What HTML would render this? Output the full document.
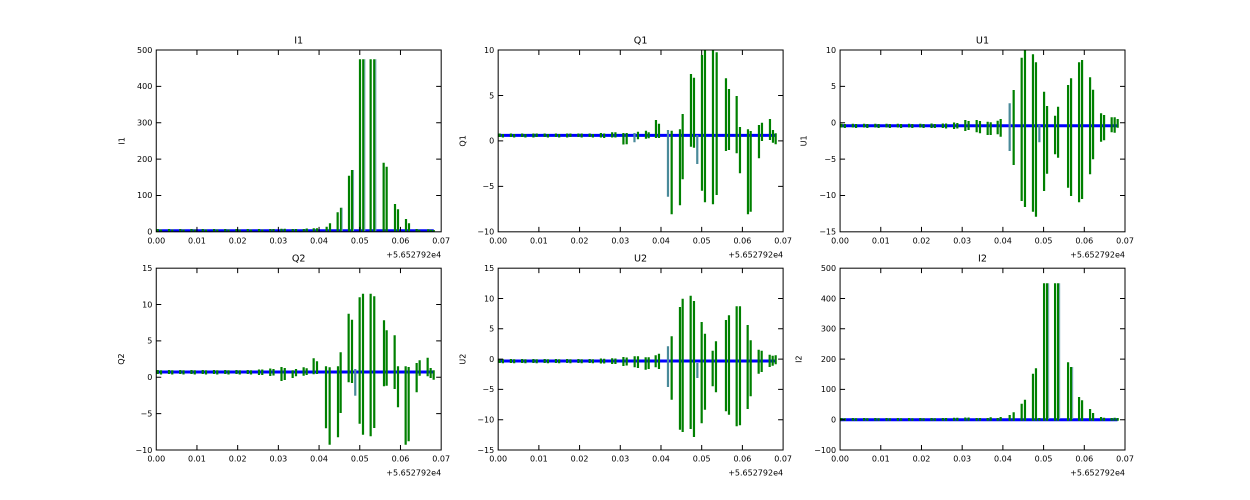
<!DOCTYPE html>
<html><head><meta charset="utf-8"><style>
html,body{margin:0;padding:0;background:#fff;}
svg{display:block;}
text{font-family:"DejaVu Sans","Liberation Sans",sans-serif;fill:#000;}
.t{font-size:8px;}
.ti{font-size:9.6px;}
</style></head><body>
<svg width="1250" height="500" viewBox="0 0 1250 500" xmlns="http://www.w3.org/2000/svg">
<defs>
<clipPath id="c1"><rect x="156.25" y="50" width="284.93" height="181.82"/></clipPath>
<clipPath id="c2"><rect x="498.17" y="50" width="284.93" height="181.82"/></clipPath>
<clipPath id="c3"><rect x="840.07" y="50" width="284.93" height="181.82"/></clipPath>
<clipPath id="c4"><rect x="156.25" y="268.18" width="284.93" height="181.82"/></clipPath>
<clipPath id="c5"><rect x="498.17" y="268.18" width="284.93" height="181.82"/></clipPath>
<clipPath id="c6"><rect x="840.07" y="268.18" width="284.93" height="181.82"/></clipPath>
</defs>
<rect width="1250" height="500" fill="#fff"/>

<!-- ===== Panel I1 ===== -->
<g clip-path="url(#c1)">
<g transform="translate(156.25,0)">
<path d="M0 230.8H277.5" stroke="#0000ff" stroke-width="3" fill="none"/>
<path stroke="#008000" stroke-width="2.2" fill="none" d="M1.5 229V233M4.75 229.5V233M12.75 229V233M16 229.5V233M24 229V233M27.25 229.5V233M35.25 229V233M38.5 229.5V233M46.5 229V233M49.75 229.5V233M57.75 229V233M61 229.5V233M69 229V233M72.25 229.5V233M80.25 229V233M83.5 229.5V233M91.5 229V233M94.75 229.5V233M102.75 229V233M106 229.5V233M114 229V233M117.25 229V233M125.25 228.7V233M128.5 228.7V233
M136.5 229V233M139.8 229V233M147.5 229V233M150.5 228.5V233M157.5 228.3V233M160.7 228.3V233M170.4 226.7V233M173.75 223.3V233M181.4 212.3V233M184.75 207.7V233M192.75 175.7V233M195.75 170V233M203.75 59.3V233M207 59.3V233M214.4 59.3V233M218 59.3V233M227.4 162.7V233M230.4 166.7V233M238.75 204V233M241.75 209.3V233M249.75 219V233M252.75 223.3V233M260.4 229V233M263 229.7V233M272 229.3V233M274.75 229.7V233M277.5 230V233"/>
<path stroke="#6f9fb0" stroke-width="1" fill="none" d="M208.6 59.3V231M219.6 59.3V231M197.3 170V231M185.9 207.7V231"/>
</g></g>
<rect x="156.25" y="50" width="284.93" height="181.82" fill="none" stroke="#000" stroke-width="1"/>
<path stroke="#000" stroke-width="1" fill="none" d="M196.95 231.82v-5M237.66 231.82v-5M278.36 231.82v-5M319.07 231.82v-5M359.77 231.82v-5M400.47 231.82v-5M196.95 50v5M237.66 50v5M278.36 50v5M319.07 50v5M359.77 50v5M400.47 50v5M156.25 195.45h5M156.25 159.09h5M156.25 122.73h5M156.25 86.36h5M441.18 195.45h-5M441.18 159.09h-5M441.18 122.73h-5M441.18 86.36h-5"/>
<g class="t" text-anchor="end">
<text x="152.3" y="234.6">0</text><text x="152.3" y="198.2">100</text><text x="152.3" y="161.9">200</text><text x="152.3" y="125.5">300</text><text x="152.3" y="89.2">400</text><text x="152.3" y="52.8">500</text>
</g>
<g class="t" text-anchor="middle">
<text x="156.25" y="243.3">0.00</text><text x="196.95" y="243.3">0.01</text><text x="237.66" y="243.3">0.02</text><text x="278.36" y="243.3">0.03</text><text x="319.07" y="243.3">0.04</text><text x="359.77" y="243.3">0.05</text><text x="400.47" y="243.3">0.06</text><text x="441.18" y="243.3">0.07</text>
</g>
<text class="t" x="441.18" y="257.5" text-anchor="end">+5.652792e4</text>
<text class="ti" x="298.7" y="43.3" text-anchor="middle">I1</text>
<text class="t" transform="translate(124.5,140.9) rotate(-90)" text-anchor="middle">I1</text>

<!-- ===== Panel Q1 ===== -->
<g clip-path="url(#c2)">
<g transform="translate(498.17,0)">
<path d="M0 135.4H277.5" stroke="#0000ff" stroke-width="3" fill="none"/>
<path stroke="#008000" stroke-width="2.2" fill="none" d="M1.5 133.5V137M4.75 134V137.5M12.75 133.5V137M16 134V137.5M24 133.5V137M27.25 134V137.5M35.25 133.5V137.5M38.5 133.5V137M46.5 133.5V137M49.75 134V137.5M57.75 133.5V137M61 134V137.5M69 133.5V137.5M72.25 133.5V137M80.25 133.5V137M83.5 133.5V137.5M91.5 133.5V137M94.75 134V137.5M102.75 133V137.5M106 133.5V138M114 132.3V137.5M117.25 132.3V137.5M125.25 133V144.5M128.5 133V144.3
M139.8 131.7V139.3M147.8 130.7V138.7M150.5 132.3V138.3M157.8 120V138M160.8 123.7V138M173.5 130.7V214.3M181.8 129.3V205.3M184.5 114V179.3M192.8 74V146.7M195.8 77.7V147.7M203.8 55V190.7M206.8 48V202.3M214.8 48V204.3M218.5 52.3V195M227.8 78.3V151M230.8 89V150M238.5 96V153.3M241.8 127V173.3M249.8 129.3V214.3M252.5 131V211.7M260.8 125V158.3M263.8 122.7V141M271.8 119V140M274.8 130V142.7M277.5 133.3V144.3"/>
<path stroke="#4a8a9a" stroke-width="2.2" fill="none" d="M136.3 133V142.3M169.8 130V196.7M199.1 135V164"/>
</g></g>
<rect x="498.17" y="50" width="284.93" height="181.82" fill="none" stroke="#000" stroke-width="1"/>
<path stroke="#000" stroke-width="1" fill="none" d="M538.87 231.82v-5M579.58 231.82v-5M620.28 231.82v-5M660.99 231.82v-5M701.69 231.82v-5M742.39 231.82v-5M538.87 50v5M579.58 50v5M620.28 50v5M660.99 50v5M701.69 50v5M742.39 50v5M498.17 186.36h5M498.17 140.91h5M498.17 95.45h5M783.1 186.36h-5M783.1 140.91h-5M783.1 95.45h-5"/>
<g class="t" text-anchor="end">
<text x="494.2" y="234.6">−10</text><text x="494.2" y="189.2">−5</text><text x="494.2" y="143.7">0</text><text x="494.2" y="98.3">5</text><text x="494.2" y="52.8">10</text>
</g>
<g class="t" text-anchor="middle">
<text x="498.17" y="243.3">0.00</text><text x="538.87" y="243.3">0.01</text><text x="579.58" y="243.3">0.02</text><text x="620.28" y="243.3">0.03</text><text x="660.99" y="243.3">0.04</text><text x="701.69" y="243.3">0.05</text><text x="742.39" y="243.3">0.06</text><text x="783.1" y="243.3">0.07</text>
</g>
<text class="t" x="783.1" y="257.5" text-anchor="end">+5.652792e4</text>
<text class="ti" x="640.6" y="43.3" text-anchor="middle">Q1</text>
<text class="t" transform="translate(465.5,140.9) rotate(-90)" text-anchor="middle">Q1</text>

<!-- ===== Panel U1 ===== -->
<g clip-path="url(#c3)">
<g transform="translate(840.07,0)">
<path d="M0 125.7H277.5" stroke="#0000ff" stroke-width="3" fill="none"/>
<path stroke="#008000" stroke-width="2.2" fill="none" d="M1.5 123.8V127.5M4.75 124V128M12.75 123.8V127.5M16 124V128M24 123.8V127.5M27.25 124V128M35.25 123.8V127.5M38.5 124V128M46.5 123.8V127.5M49.75 124V128M57.75 123.8V127.5M61 124V128M69 123.8V127.5M72.25 124V128M80.25 123.8V127.5M83.5 124V128M91.5 123.5V128M94.75 124V128M102.75 123.5V128M106 123.5V128.5M114 122.5V129M117.25 123V128.5M125.25 120V131M128.5 121V130
M136.6 120V132.3M139.9 121V133.3M147.6 121.7V135M150.6 122.3V135M157.6 120.7V134.3M160.6 119V136.7M173.6 90V165M181.6 57.7V201M184.9 48V207M192.9 54.3V211.7M195.9 62.3V216.7M204 91.7V191M207 106V173.7M215 115.7V154.3M218 106.7V157.7M228 85V187.7M231 78.3V196M239 62.3V202.3M242 60V199M250 77.3V174.3M253 89.7V159.3M261 113.3V141.7M264 115V140.3M271.6 117.3V132.3M274.6 117.3V132.7M277.6 119V127.7"/>
<path stroke="#4a8a9a" stroke-width="2.2" fill="none" d="M169.6 103.3V151M199.3 125V142.3"/>
</g></g>
<rect x="840.07" y="50" width="284.93" height="181.82" fill="none" stroke="#000" stroke-width="1"/>
<path stroke="#000" stroke-width="1" fill="none" d="M880.77 231.82v-5M921.48 231.82v-5M962.18 231.82v-5M1002.89 231.82v-5M1043.59 231.82v-5M1084.29 231.82v-5M880.77 50v5M921.48 50v5M962.18 50v5M1002.89 50v5M1043.59 50v5M1084.29 50v5M840.07 86.36h5M840.07 122.73h5M840.07 159.09h5M840.07 195.45h5M1125 86.36h-5M1125 122.73h-5M1125 159.09h-5M1125 195.45h-5"/>
<g class="t" text-anchor="end">
<text x="836.1" y="234.6">−15</text><text x="836.1" y="198.2">−10</text><text x="836.1" y="161.9">−5</text><text x="836.1" y="125.5">0</text><text x="836.1" y="89.2">5</text><text x="836.1" y="52.8">10</text>
</g>
<g class="t" text-anchor="middle">
<text x="840.07" y="243.3">0.00</text><text x="880.77" y="243.3">0.01</text><text x="921.48" y="243.3">0.02</text><text x="962.18" y="243.3">0.03</text><text x="1002.89" y="243.3">0.04</text><text x="1043.59" y="243.3">0.05</text><text x="1084.29" y="243.3">0.06</text><text x="1125" y="243.3">0.07</text>
</g>
<text class="t" x="1125" y="257.5" text-anchor="end">+5.652792e4</text>
<text class="ti" x="982.5" y="43.3" text-anchor="middle">U1</text>
<text class="t" transform="translate(806.5,140.9) rotate(-90)" text-anchor="middle">U1</text>

<!-- ===== Panel Q2 ===== -->
<g clip-path="url(#c4)">
<g transform="translate(156.25,0)">
<path d="M0 372H277.5" stroke="#0000ff" stroke-width="3" fill="none"/>
<path stroke="#008000" stroke-width="2.2" fill="none" d="M1.5 370V374M4.75 370.3V374.5M12.75 370V374M16 370.3V374.5M24 370V374M27.25 370.3V374.5M35.25 370V374M38.5 370.3V374.5M46.5 370V374M49.75 370.3V374.5M57.75 370V374M61 370.3V374.5M69 370V374M72.25 370.3V374.5M80.25 370V374M83.5 370.3V374.5M91.5 370V374M94.75 370.3V374.5M102.75 369.5V375M106 369.5V375M114 368.5V376M117.25 369V375.5M125.25 367V381M128.5 368V380
M136.4 370.3V378M139.75 369V376.3M147.4 367.3V375.7M150.4 368.3V375M157.4 358.3V374.3M160.75 361.3V374M169.75 366.3V428.3M173.4 367.3V444.7M181.75 366.3V437.3M184.4 352.3V413M192.4 313.7V382.3M195.75 319.7V383M203.4 297.3V423.7M206.75 293.7V434.7M214.4 293.7V436.3M218 296.3V428M227.75 320.3V386.3M230.4 330.3V385.7M238.4 335.3V389M241.75 366.3V407.3M249.4 366.3V444.7M252.4 367V441.3M260.4 363V392.3M263.4 360.3V375.7M271.4 357.7V376.3M274.4 368V378M277.4 370.3V379.7"/>
<path stroke="#4a8a9a" stroke-width="2.2" fill="none" d="M199 369V395.7"/>
</g></g>
<rect x="156.25" y="268.18" width="284.93" height="181.82" fill="none" stroke="#000" stroke-width="1"/>
<path stroke="#000" stroke-width="1" fill="none" d="M196.95 450v-5M237.66 450v-5M278.36 450v-5M319.07 450v-5M359.77 450v-5M400.47 450v-5M196.95 268.18v5M237.66 268.18v5M278.36 268.18v5M319.07 268.18v5M359.77 268.18v5M400.47 268.18v5M156.25 304.55h5M156.25 340.91h5M156.25 377.27h5M156.25 413.64h5M441.18 304.55h-5M441.18 340.91h-5M441.18 377.27h-5M441.18 413.64h-5"/>
<g class="t" text-anchor="end">
<text x="152.3" y="452.8">−10</text><text x="152.3" y="416.4">−5</text><text x="152.3" y="380.1">0</text><text x="152.3" y="343.7">5</text><text x="152.3" y="307.3">10</text><text x="152.3" y="271">15</text>
</g>
<g class="t" text-anchor="middle">
<text x="156.25" y="461.5">0.00</text><text x="196.95" y="461.5">0.01</text><text x="237.66" y="461.5">0.02</text><text x="278.36" y="461.5">0.03</text><text x="319.07" y="461.5">0.04</text><text x="359.77" y="461.5">0.05</text><text x="400.47" y="461.5">0.06</text><text x="441.18" y="461.5">0.07</text>
</g>
<text class="t" x="441.18" y="475.7" text-anchor="end">+5.652792e4</text>
<text class="ti" x="298.7" y="261.5" text-anchor="middle">Q2</text>
<text class="t" transform="translate(123.8,359.1) rotate(-90)" text-anchor="middle">Q2</text>

<!-- ===== Panel U2 ===== -->
<g clip-path="url(#c5)">
<g transform="translate(498.17,0)">
<path d="M0 361H277.5" stroke="#0000ff" stroke-width="3" fill="none"/>
<path stroke="#008000" stroke-width="2.2" fill="none" d="M1.5 359V363M4.75 359.3V363.3M12.75 359V363M16 359.3V363.3M24 359V363M27.25 359.3V363.3M35.25 359V363M38.5 359.3V363.3M46.5 359V363M49.75 359.3V363.3M57.75 359V363M61 359.3V363.3M69 359V363M72.25 359.3V363.3M80.25 359V363M83.5 359.3V363.3M91.5 359V363M94.75 359.3V363.3M102.75 358.5V363.5M106 358.7V363.5M114 358.3V364M117.25 358.5V364M125.25 357V366M128.5 357.5V365.5
M136.5 356.3V367.3M139.8 356.3V368M147.5 357.3V369.7M150.5 357.3V369M157.5 355.3V367.3M160.8 353.7V369M173.5 336.3V399.7M181.8 307V429.7M184.5 298.7V432M192.5 295.7V429M195.8 301V437M203.5 322V423.3M206.8 333.7V409.7M214.5 350.7V386.3M217.8 341.3V392.3M227.8 320V411.3M230.8 315.3V414.7M238.5 306.3V426.3M241.8 306.3V425.3M249.5 325V409M252.5 340.3V396.3M260.5 349.7V373.7M263.5 350.7V372M271.5 354.7V367M274.5 355.7V365.7M277.5 355.3V364.3"/>
<path stroke="#4a8a9a" stroke-width="2.2" fill="none" d="M169.8 346.3V387M199.2 363V378"/>
</g></g>
<rect x="498.17" y="268.18" width="284.93" height="181.82" fill="none" stroke="#000" stroke-width="1"/>
<path stroke="#000" stroke-width="1" fill="none" d="M538.87 450v-5M579.58 450v-5M620.28 450v-5M660.99 450v-5M701.69 450v-5M742.39 450v-5M538.87 268.18v5M579.58 268.18v5M620.28 268.18v5M660.99 268.18v5M701.69 268.18v5M742.39 268.18v5M498.17 298.48h5M498.17 328.79h5M498.17 359.09h5M498.17 389.39h5M498.17 419.7h5M783.1 298.48h-5M783.1 328.79h-5M783.1 359.09h-5M783.1 389.39h-5M783.1 419.7h-5"/>
<g class="t" text-anchor="end">
<text x="494.2" y="452.8">−15</text><text x="494.2" y="422.5">−10</text><text x="494.2" y="392.2">−5</text><text x="494.2" y="361.9">0</text><text x="494.2" y="331.6">5</text><text x="494.2" y="301.3">10</text><text x="494.2" y="271">15</text>
</g>
<g class="t" text-anchor="middle">
<text x="498.17" y="461.5">0.00</text><text x="538.87" y="461.5">0.01</text><text x="579.58" y="461.5">0.02</text><text x="620.28" y="461.5">0.03</text><text x="660.99" y="461.5">0.04</text><text x="701.69" y="461.5">0.05</text><text x="742.39" y="461.5">0.06</text><text x="783.1" y="461.5">0.07</text>
</g>
<text class="t" x="783.1" y="475.7" text-anchor="end">+5.652792e4</text>
<text class="ti" x="640.6" y="261.5" text-anchor="middle">U2</text>
<text class="t" transform="translate(465.5,359.1) rotate(-90)" text-anchor="middle">U2</text>

<!-- ===== Panel I2 ===== -->
<g clip-path="url(#c6)">
<g transform="translate(840.07,0)">
<path d="M0 419.7H277.5" stroke="#0000ff" stroke-width="3" fill="none"/>
<path stroke="#008000" stroke-width="2.2" fill="none" d="M1.5 418V420.8M4.75 418.3V420.8M12.75 418V420.8M16 418.3V420.8M24 418V420.8M27.25 418.3V420.8M35.25 418V420.8M38.5 418.3V420.8M46.5 418V420.8M49.75 418.3V420.8M57.75 418V420.8M61 418.3V420.8M69 418V420.8M72.25 418.3V420.8M80.25 418V420.8M83.5 418.3V420.8M91.5 418V420.8M94.75 418.3V420.8M102.75 418V420.8M106 418V420.8M114 417.8V420.8M117.25 417.8V420.8M125.25 417.5V420.8M128.5 417.5V420.8
M136.6 418V420.8M139.9 418V420.8M147.6 418V420.8M150.6 417.3V420.8M157.6 418V420.8M160.6 417V420.8M169.6 415V420.8M173.6 412.3V420.8M181.6 403.7V420.8M184.9 399.7V420.8M192.9 373.7V420.8M195.9 368.3V420.8M199.3 418V420.8M204 283.3V420.8M207 283.3V420.8M215 283.3V420.8M218 283.3V420.8M228 362.3V420.8M231 367V420.8M239 397V420.8M242 400.3V420.8M250 409V420.8M253 413V420.8M261 417V420.8M264 417.7V420.8M271.6 418V420.8M274.6 417.7V420.8M277.6 418V420.8"/>
<path stroke="#6f9fb0" stroke-width="1" fill="none" d="M208.6 283.3V419M219.6 283.3V419M232.6 367V419"/>
</g></g>
<rect x="840.07" y="268.18" width="284.93" height="181.82" fill="none" stroke="#000" stroke-width="1"/>
<path stroke="#000" stroke-width="1" fill="none" d="M880.77 450v-5M921.48 450v-5M962.18 450v-5M1002.89 450v-5M1043.59 450v-5M1084.29 450v-5M880.77 268.18v5M921.48 268.18v5M962.18 268.18v5M1002.89 268.18v5M1043.59 268.18v5M1084.29 268.18v5M840.07 298.48h5M840.07 328.79h5M840.07 359.09h5M840.07 389.39h5M840.07 419.7h5M1125 298.48h-5M1125 328.79h-5M1125 359.09h-5M1125 389.39h-5M1125 419.7h-5"/>
<g class="t" text-anchor="end">
<text x="836.1" y="452.8">−100</text><text x="836.1" y="422.5">0</text><text x="836.1" y="392.2">100</text><text x="836.1" y="361.9">200</text><text x="836.1" y="331.6">300</text><text x="836.1" y="301.3">400</text><text x="836.1" y="271">500</text>
</g>
<g class="t" text-anchor="middle">
<text x="840.07" y="461.5">0.00</text><text x="880.77" y="461.5">0.01</text><text x="921.48" y="461.5">0.02</text><text x="962.18" y="461.5">0.03</text><text x="1002.89" y="461.5">0.04</text><text x="1043.59" y="461.5">0.05</text><text x="1084.29" y="461.5">0.06</text><text x="1125" y="461.5">0.07</text>
</g>
<text class="t" x="1125" y="475.7" text-anchor="end">+5.652792e4</text>
<text class="ti" x="982.5" y="261.5" text-anchor="middle">I2</text>
<text class="t" transform="translate(801.5,359.1) rotate(-90)" text-anchor="middle">I2</text>
</svg>
</body></html>
